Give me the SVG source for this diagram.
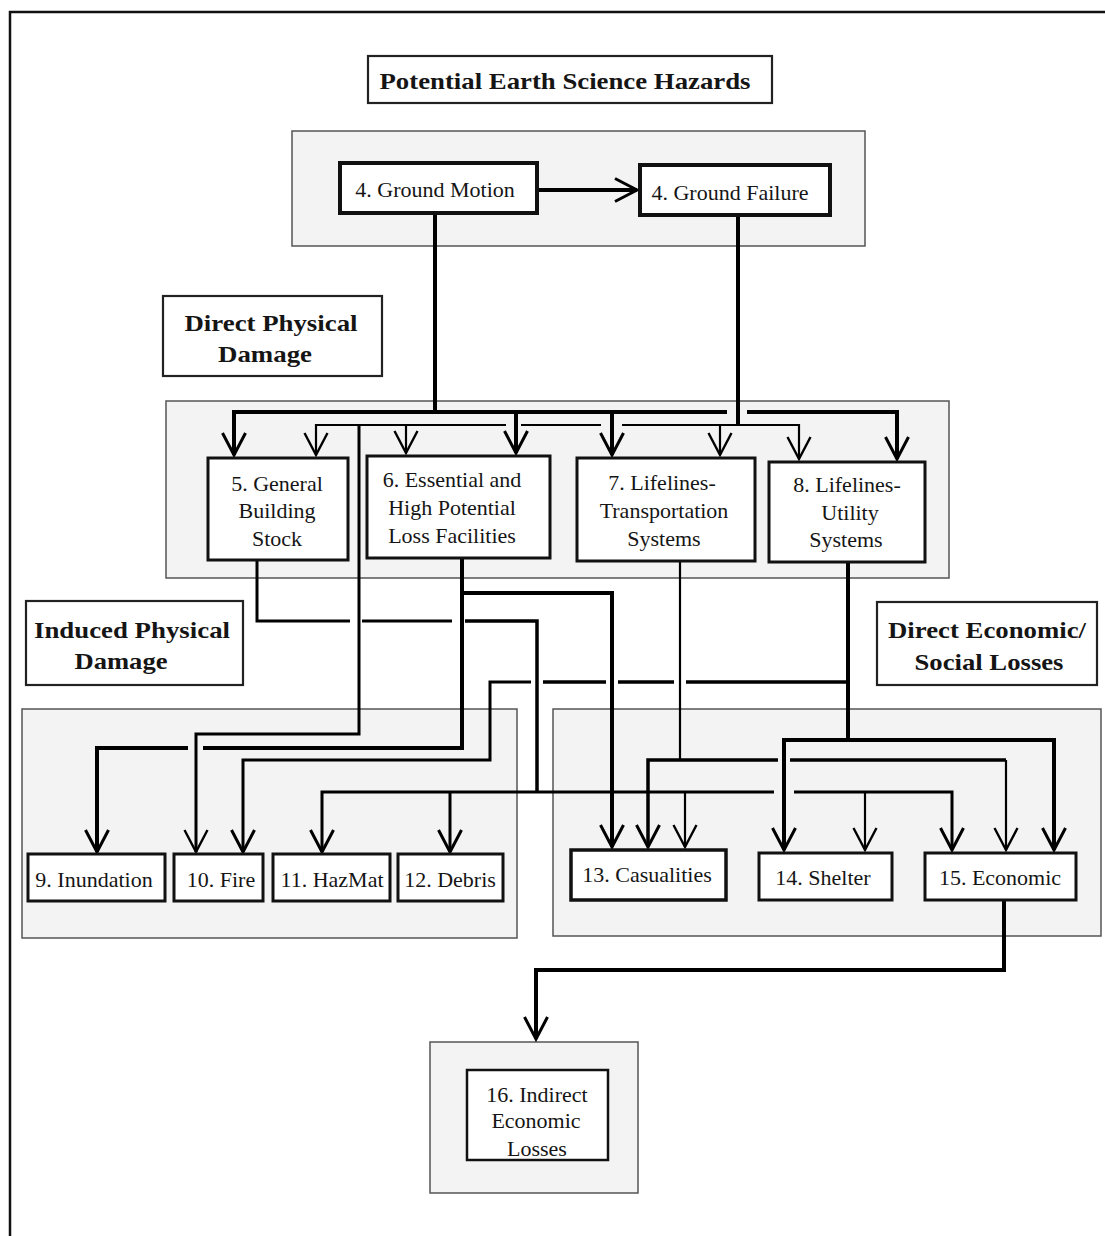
<svg xmlns="http://www.w3.org/2000/svg" width="1105" height="1236" viewBox="0 0 1105 1236">
<style>
.frame{fill:none;stroke:#111;stroke-width:2.5}
.cont{fill:#f3f3f3;stroke:#555;stroke-width:1.5}
.lbl{fill:#fff;stroke:#222;stroke-width:2.2}
.node{fill:#fff;stroke:#111;stroke-width:3}
.t{font-family:"Liberation Serif","Times New Roman",serif;font-size:22px;fill:#151515;text-anchor:middle}
.b{font-family:"Liberation Serif","Times New Roman",serif;font-size:24px;font-weight:bold;fill:#151515;text-anchor:middle}
.c{fill:none;stroke:#000;stroke-linecap:butt;stroke-linejoin:miter}
.w4{stroke-width:4}
.w35{stroke-width:3.5}
.w3{stroke-width:3}
.w2{stroke-width:2.2}
</style>
<defs>
<marker id="ah" markerUnits="userSpaceOnUse" markerWidth="40" markerHeight="40" viewBox="-30 -20 40 40" refX="0" refY="0" orient="auto" overflow="visible">
<path d="M-22,-11.5 L0,0 L-22,11.5" fill="none" stroke="#000" stroke-width="3"/>
</marker>
<marker id="ahs" markerUnits="userSpaceOnUse" markerWidth="40" markerHeight="40" viewBox="-30 -20 40 40" refX="0" refY="0" orient="auto" overflow="visible">
<path d="M-22,-11.5 L0,0 L-22,11.5" fill="none" stroke="#000" stroke-width="2.4"/>
</marker>
</defs>
<rect width="1105" height="1236" fill="#fff"/>
<path class="frame" d="M10,1236 V12 H1105"/>

<!-- containers -->
<g id="containers">
<rect class="cont" x="292" y="131" width="573" height="115"/>
<rect class="cont" x="166" y="401" width="783" height="177"/>
<rect class="cont" x="22" y="709" width="495" height="229"/>
<rect class="cont" x="553" y="709" width="548" height="227"/>
<rect class="cont" x="430" y="1042" width="208" height="151"/>
</g>

<!-- section labels -->
<g id="label-hazards">
<rect class="lbl" x="368" y="56" width="404" height="47"/>
<text class="b" x="565" y="89" textLength="371" lengthAdjust="spacingAndGlyphs">Potential Earth Science Hazards</text>
</g>
<g id="label-direct-physical">
<rect class="lbl" x="163" y="296" width="219" height="80"/>
<text class="b" x="271" y="331" textLength="173" lengthAdjust="spacingAndGlyphs">Direct Physical</text>
<text class="b" x="265" y="362" textLength="94" lengthAdjust="spacingAndGlyphs">Damage</text>
</g>
<g id="label-induced-physical">
<rect class="lbl" x="26" y="601" width="217" height="84"/>
<text class="b" x="132" y="638" textLength="196" lengthAdjust="spacingAndGlyphs">Induced Physical</text>
<text class="b" x="121" y="669" textLength="93" lengthAdjust="spacingAndGlyphs">Damage</text>
</g>
<g id="label-direct-economic">
<rect class="lbl" x="877" y="602" width="220" height="83"/>
<text class="b" x="987" y="638" textLength="198" lengthAdjust="spacingAndGlyphs">Direct Economic/</text>
<text class="b" x="989" y="670" textLength="149" lengthAdjust="spacingAndGlyphs">Social Losses</text>
</g>

<!-- connectors -->
<g id="connectors">
<path class="c w4" d="M537,190 H637" marker-end="url(#ah)"/>
<path class="c w4" d="M435,213 V412"/>
<path class="c w4" d="M738,215 V425"/>
<!-- bus A (ground motion) -->
<path class="c w4" d="M727,412 H234 V455" marker-end="url(#ah)"/>
<path class="c w4" d="M747,412 H897 V459" marker-end="url(#ah)"/>
<path class="c w4" d="M516,412 V453" marker-end="url(#ah)"/>
<path class="c w4" d="M612,412 V455" marker-end="url(#ah)"/>
<!-- bus B (ground failure) -->
<path class="c w2" d="M506,425 H316 V455" marker-end="url(#ahs)"/>
<path class="c w2" d="M521,425 H601"/>
<path class="c w2" d="M622,425 H799 V459" marker-end="url(#ahs)"/>
<path class="c w2" d="M406,425 V453" marker-end="url(#ahs)"/>
<path class="c w2" d="M720,425 V455" marker-end="url(#ahs)"/>
<path class="c w3" d="M359,425 V734 H196 V852" marker-end="url(#ahs)"/>
<!-- from 5 -->
<path class="c w3" d="M257,560 V621 H350"/>
<path class="c w3" d="M362,621 H452"/>
<path class="c w35" d="M465,621 H537 V792"/>
<path class="c w3" d="M774,792 H322 V852" marker-end="url(#ah)"/>
<path class="c w3" d="M794,792 H952 V850" marker-end="url(#ah)"/>
<path class="c w3" d="M450,792 V852" marker-end="url(#ah)"/>
<path class="c w2" d="M685,792 V847" marker-end="url(#ahs)"/>
<path class="c w2" d="M865,792 V850" marker-end="url(#ahs)"/>
<!-- from 6 -->
<path class="c w4" d="M462,558 V748 H203"/>
<path class="c w4" d="M188,748 H97 V852" marker-end="url(#ah)"/>
<path class="c w4" d="M462,593 H612 V847" marker-end="url(#ah)"/>
<!-- from 7 -->
<path class="c w2" d="M680,561 V760"/>
<path class="c w35" d="M778,760 H648 V847" marker-end="url(#ah)"/>
<path class="c w35" d="M790,760 H1006"/>
<path class="c w2" d="M1006,760 V850" marker-end="url(#ahs)"/>
<!-- from 8 -->
<path class="c w4" d="M848,562 V740"/>
<path class="c w35" d="M848,682 H686"/>
<path class="c w35" d="M674,682 H618"/>
<path class="c w35" d="M606,682 H543"/>
<path class="c w3" d="M531,682 H490 V760 H243 V852" marker-end="url(#ah)"/>
<path class="c w4" d="M848,740 H784 V850" marker-end="url(#ah)"/>
<path class="c w4" d="M846,740 H1054 V850" marker-end="url(#ah)"/>
<!-- from 15 -->
<path class="c w4" d="M1004,900 V970 H536 V1039" marker-end="url(#ah)"/>
</g>

<!-- nodes -->
<g id="n4a"><rect class="node" x="340" y="163" width="197" height="50" style="stroke-width:4"/><text class="t" x="435" y="197">4. Ground Motion</text></g>
<g id="n4b"><rect class="node" x="640" y="165" width="190" height="50" style="stroke-width:4"/><text class="t" x="730" y="200">4. Ground Failure</text></g>
<g id="n5"><rect class="node" x="208" y="458" width="140" height="102"/>
<text class="t" x="277" y="491">5. General</text><text class="t" x="277" y="518">Building</text><text class="t" x="277" y="546">Stock</text></g>
<g id="n6"><rect class="node" x="367" y="456" width="183" height="102"/>
<text class="t" x="452" y="487">6. Essential and</text><text class="t" x="452" y="515">High Potential</text><text class="t" x="452" y="543">Loss Facilities</text></g>
<g id="n7"><rect class="node" x="577" y="458" width="178" height="103"/>
<text class="t" x="662" y="490">7.  Lifelines-</text><text class="t" x="664" y="518">Transportation</text><text class="t" x="664" y="546">Systems</text></g>
<g id="n8"><rect class="node" x="769" y="462" width="156" height="100"/>
<text class="t" x="847" y="492">8.  Lifelines-</text><text class="t" x="850" y="520">Utility</text><text class="t" x="846" y="547">Systems</text></g>
<g id="n9"><rect class="node" x="28" y="854" width="137" height="47"/><text class="t" x="94" y="887">9. Inundation</text></g>
<g id="n10"><rect class="node" x="174" y="854" width="89" height="47"/><text class="t" x="221" y="887">10. Fire</text></g>
<g id="n11"><rect class="node" x="273" y="854" width="117" height="47"/><text class="t" x="332" y="887">11. HazMat</text></g>
<g id="n12"><rect class="node" x="398" y="854" width="105" height="47"/><text class="t" x="450" y="887">12. Debris</text></g>
<g id="n13"><rect class="node" x="571" y="850" width="155" height="50" style="stroke-width:3.5"/><text class="t" x="647" y="882">13. Casualities</text></g>
<g id="n14"><rect class="node" x="759" y="853" width="133" height="47"/><text class="t" x="823" y="885">14. Shelter</text></g>
<g id="n15"><rect class="node" x="925" y="853" width="151" height="47"/><text class="t" x="1000" y="885">15. Economic</text></g>
<g id="n16"><rect class="node" x="467" y="1070" width="141" height="90" style="stroke-width:2.5"/>
<text class="t" x="537" y="1102">16. Indirect</text><text class="t" x="536" y="1128">Economic</text><text class="t" x="537" y="1156">Losses</text></g>
</svg>
